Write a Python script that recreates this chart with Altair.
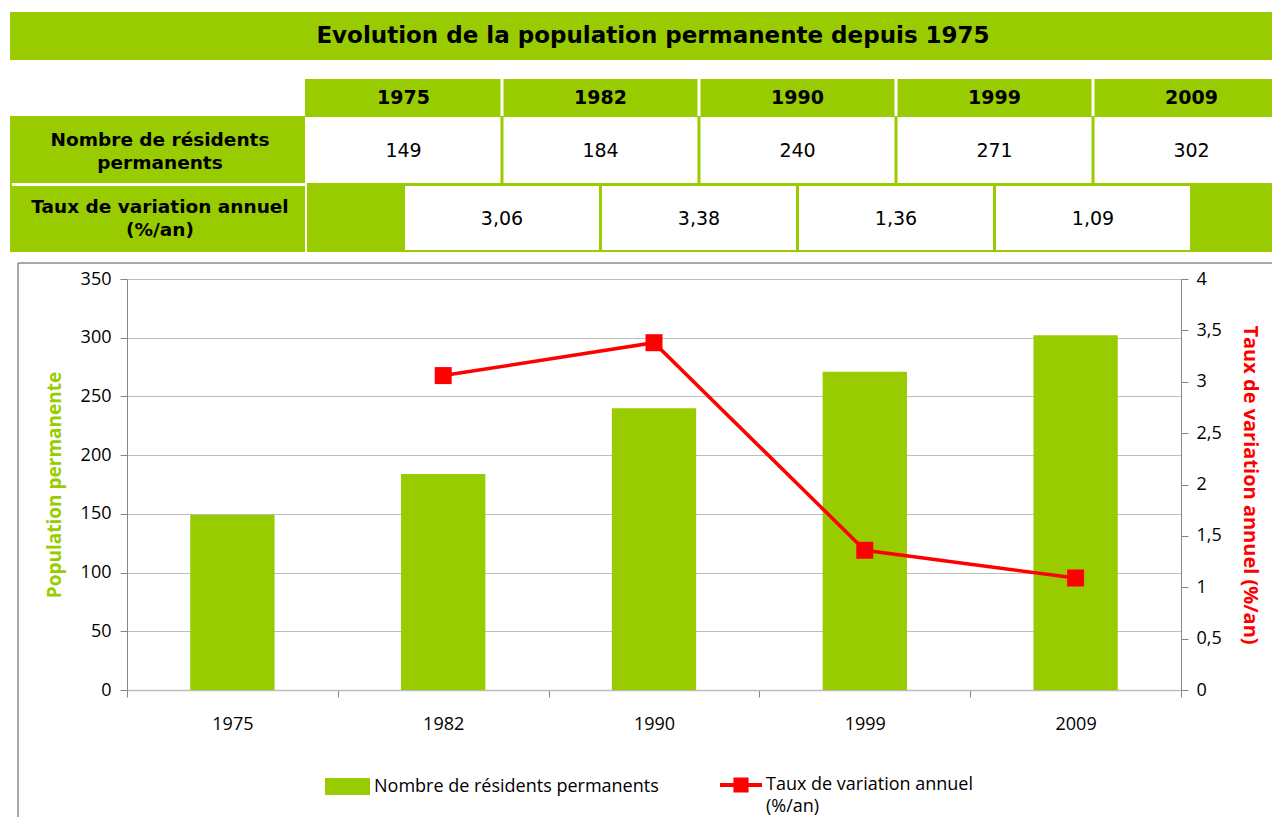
import altair as alt
import pandas as pd

# ---------------- data ----------------
YEARS = ["1975", "1982", "1990", "1999", "2009"]
POP = [149, 184, 240, 271, 302]
RATE_YEARS = ["1982", "1990", "1999", "2009"]
RATES = [3.06, 3.38, 1.36, 1.09]
RATE_LABELS = ["3,06", "3,38", "1,36", "1,09"]
TITLE = "Evolution de la population permanente depuis 1975"
ROW1_LABEL = "Nombre de résidents|permanents"
ROW2_LABEL = "Taux de variation annuel|(%/an)"
BAR_SERIES = "Nombre de résidents permanents"
LINE_SERIES = "Taux de variation annuel|(%/an)"
Y_LEFT_TITLE = "Population permanente"
Y_RIGHT_TITLE = "Taux de variation annuel (%/an)"
LEFT_TICKS = [0, 50, 100, 150, 200, 250, 300, 350]
RIGHT_TICKS = [0, 0.5, 1, 1.5, 2, 2.5, 3, 3.5, 4]

GREEN = "#99CC00"
RED = "#FF0000"
TFONT = "DejaVu Sans"
CFONT = "Open Sans"

# ---------------- top: banner + table (origin aligned with plot area) ----------------
TW, TH = 1145, 250
X0, COLW = 178, 197
G = 1.5 / COLW
XMAX = (TW - X0) / COLW
colscale = alt.Scale(domain=[-X0 / COLW, XMAX], nice=False, zero=False)

yr = pd.DataFrame({"k": list(range(len(YEARS))), "year": YEARS, "pop": [str(p) for p in POP]})
yr["x0"] = yr["k"] + G
yr["x1"] = (yr["k"] + 1 - G).clip(upper=XMAX)
yr["cx"] = yr["k"] + 0.5
yr.loc[0, "x0"] = 0

rt = pd.DataFrame({"k": list(range(len(RATE_LABELS))), "label": RATE_LABELS})
rt["x0"] = rt["k"] + 0.5 + G
rt["x1"] = rt["k"] + 1.5 - G
rt["cx"] = rt["k"] + 1.0

one = pd.DataFrame({"a": [0]})
lab = pd.DataFrame({"r1": [ROW1_LABEL], "r2": [ROW2_LABEL], "t": [TITLE]})

def X(f):
    return alt.X(f, scale=colscale, axis=None)

banner = alt.Chart(one).mark_rect(color=GREEN).encode(
    x=alt.value(-117), x2=alt.value(TW), y=alt.value(4), y2=alt.value(52))
title = alt.Chart(lab).mark_text(
    font=TFONT, fontSize=23, fontWeight="bold", color="black", align="center", baseline="middle"
).encode(x=alt.value(526), y=alt.value(28), text="t:N")

head = alt.Chart(yr).mark_rect(color=GREEN).encode(
    x=X("x0:Q"), x2="x1:Q", y=alt.value(71), y2=alt.value(108))
body = alt.Chart(one).mark_rect(color=GREEN).encode(
    x=alt.value(-117), x2=alt.value(TW), y=alt.value(108), y2=alt.value(244))
row1 = alt.Chart(yr).mark_rect(color="white").encode(
    x=X("x0:Q"), x2="x1:Q", y=alt.value(109), y2=alt.value(175))
row2 = alt.Chart(rt).mark_rect(color="white").encode(
    x=X("x0:Q"), x2="x1:Q", y=alt.value(178), y2=alt.value(242))
sep_h = alt.Chart(one).mark_rect(color="white").encode(
    x=alt.value(-115), x2=alt.value(180), y=alt.value(175), y2=alt.value(178))
sep_v = alt.Chart(one).mark_rect(color="white").encode(
    x=alt.value(178), x2=alt.value(180), y=alt.value(178), y2=alt.value(244))

t_year = alt.Chart(yr).mark_text(font=TFONT, fontSize=19, fontWeight="bold", color="black").encode(
    x=X("cx:Q"), y=alt.value(90), text="year:N")
t_pop = alt.Chart(yr).mark_text(font=TFONT, fontSize=19, color="black").encode(
    x=X("cx:Q"), y=alt.value(143), text="pop:N")
t_rate = alt.Chart(rt).mark_text(font=TFONT, fontSize=19, color="black").encode(
    x=X("cx:Q"), y=alt.value(211), text="label:N")
rowtxt = dict(font=TFONT, fontSize=18.5, fontWeight="bold", color="black",
              lineBreak="|", lineHeight=23, baseline="middle", align="center")
t_r1 = alt.Chart(lab).mark_text(**rowtxt).encode(x=alt.value(33), y=alt.value(132), text="r1:N")
t_r2 = alt.Chart(lab).mark_text(**rowtxt).encode(x=alt.value(33), y=alt.value(199), text="r2:N")

top = alt.layer(banner, title, body, head, row1, row2, sep_h, sep_v,
                t_year, t_pop, t_rate, t_r1, t_r2).properties(
    width=TW, height=TH, view=alt.ViewBackground(stroke="transparent", strokeWidth=0))

# ---------------- bottom: dual-axis chart ----------------
PW, PH = 1054, 411
bar_df = pd.DataFrame({"year": YEARS, "pop": POP, "serie": BAR_SERIES})
line_df = pd.DataFrame({"year": RATE_YEARS, "rate": RATES, "serie": LINE_SERIES})

xaxis = alt.Axis(title=None, labelAngle=0, tickBand="extent", labelFont=CFONT, labelFontSize=18,
                 labelColor="black", labelPadding=18, tickSize=7, tickColor="#868686",
                 domainColor="#BDBDBD", domainWidth=1.5, grid=False)
xenc = alt.X("year:N", scale=alt.Scale(domain=YEARS, paddingInner=0, paddingOuter=0), axis=xaxis)

laxis = alt.Axis(title=Y_LEFT_TITLE, titleColor=GREEN, titleFont=CFONT, titleFontSize=19,
                 titleFontWeight="bold", titlePadding=16, values=LEFT_TICKS, labelFont=CFONT,
                 labelFontSize=18, labelColor="black", labelPadding=9, tickSize=7,
                 tickColor="#868686", domainColor="#868686", grid=True, gridColor="#BDBDBD")
raxis = alt.Axis(orient="right", title=Y_RIGHT_TITLE, titleColor=RED, titleFont=CFONT,
                 titleFontSize=20, titleFontWeight="bold", titlePadding=18, values=RIGHT_TICKS,
                 labelExpr="replace(format(datum.value, '~g'), '.', ',')", labelFont=CFONT,
                 labelFontSize=18, labelColor="black", labelPadding=8, tickSize=7,
                 tickColor="#868686", domainColor="#868686", grid=False)

bar_sym = "M-1,-0.378L1,-0.378L1,0.378L-1,0.378Z"
line_sym = "M-1,-0.09L1,-0.09L1,0.09L-1,0.09Z M-0.36,-0.36L0.36,-0.36L0.36,0.36L-0.36,0.36Z"

bars = alt.Chart(bar_df).mark_bar(width=alt.RelativeBandSize(0.4)).encode(
    x=xenc,
    y=alt.Y("pop:Q", scale=alt.Scale(domain=[0, 350], nice=False), axis=laxis),
    fill=alt.Fill("serie:N", scale=alt.Scale(domain=[BAR_SERIES], range=[GREEN]),
                  legend=alt.Legend(title=None, orient="none", legendX=198, legendY=756,
                                    symbolType=bar_sym, symbolSize=2025, symbolStrokeWidth=0,
                                    labelFont=CFONT, labelFontSize=18, labelColor="black",
                                    labelOffset=4, labelLimit=600)))

yr_enc = alt.Y("rate:Q", scale=alt.Scale(domain=[0, 4], nice=False), axis=raxis)
line = alt.Chart(line_df).mark_line(color=RED, strokeWidth=3.5).encode(x=xenc, y=yr_enc)
pts = alt.Chart(line_df).mark_point(shape="square", size=289, filled=True, opacity=1).encode(
    x=xenc, y=yr_enc,
    color=alt.Color("serie:N", scale=alt.Scale(domain=[LINE_SERIES], range=[RED]),
                    legend=alt.Legend(title=None, orient="none", legendX=593, legendY=756,
                                      symbolType=line_sym, symbolSize=1764, symbolStrokeWidth=0,
                                      labelFont=CFONT, labelFontSize=18, labelColor="black",
                                      labelOffset=4, labelLimit=600,
                                      labelExpr="split(datum.label, '|')")))

frame_l = alt.Chart(one).mark_rule(color="#8C8C8C", strokeWidth=1.5).encode(
    x=alt.value(-109), y=alt.value(-16), y2=alt.value(538))
frame_t = alt.Chart(one).mark_rule(color="#8C8C8C", strokeWidth=1.5).encode(
    x=alt.value(-109), x2=alt.value(TW), y=alt.value(-16))
extender = alt.Chart(one).mark_rule(opacity=0).encode(
    x=alt.value(-119), y=alt.value(0), y2=alt.value(10))

bottom = alt.layer(frame_l, frame_t, extender, bars, alt.layer(line, pts)).resolve_scale(
    y="independent").properties(width=PW, height=PH,
                                view=alt.ViewBackground(stroke="transparent", strokeWidth=0))

chart = alt.vconcat(top, bottom, spacing=4).properties(
    padding={"left": 0, "top": 0, "right": 0, "bottom": 0}, background="white"
).configure_view(stroke="transparent", strokeWidth=0).configure(
    font=CFONT, style={"guide-label": {"lineHeight": 22}})

chart.save("out.html", embed_options={"renderer": "svg", "actions": False})
